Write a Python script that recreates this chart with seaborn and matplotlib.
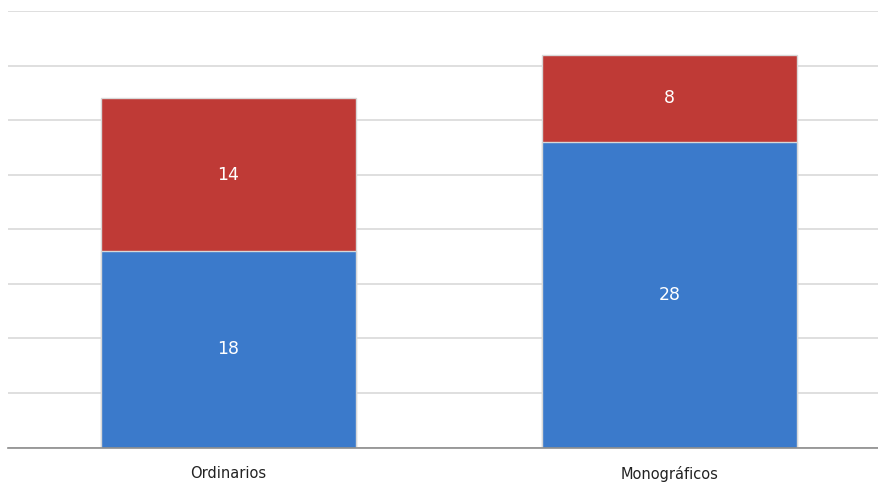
import matplotlib
matplotlib.use("Agg")
import matplotlib.pyplot as plt
import seaborn as sns
import pandas as pd
import numpy as np

categories = ["Ordinarios", "Monográficos"]
blue_vals = [18, 28]
red_vals = [14, 8]

sns.set_theme(style="white")
plt.rcParams['font.family'] = ['DejaVu Sans']

df = pd.DataFrame({"cat": categories, "blue": blue_vals, "red": red_vals})
df["total"] = df["blue"] + df["red"]

fig = plt.figure(figsize=(8.79, 4.83), dpi=100)
W, H = 879, 483
ax = fig.add_axes([8 / W, (H - 447.5) / H, 882 / W, (447.5 - 11) / H])

sns.barplot(data=df, x="cat", y="total", color="#bf3a36", saturation=1,
            width=0.576, ax=ax, edgecolor="#d8d8d8", linewidth=1)
sns.barplot(data=df, x="cat", y="blue", color="#3b7acb", saturation=1,
            width=0.576, ax=ax, edgecolor="#d8d8d8", linewidth=1)

for i, (b, r) in enumerate(zip(blue_vals, red_vals)):
    ax.text(i, b / 2, str(b), ha="center", va="center", color="white", fontsize=12.5)
    ax.text(i, b + r / 2, str(r), ha="center", va="center", color="white", fontsize=12.5)

ax.set_ylim(0, 40)
ax.set_xlim(-0.5, 1.5)
ax.set_yticks(np.arange(0, 41, 5))
ax.set_yticklabels([])
ax.tick_params(axis="y", length=0)
ax.tick_params(axis="x", length=0, labelsize=10.5, colors="#222222", pad=13)
ax.yaxis.grid(True, color="#d9d9d9", linewidth=1.2)
ax.set_axisbelow(True)
ax.set_xlabel("")
ax.set_ylabel("")
for s in ["left", "right", "top"]:
    ax.spines[s].set_visible(False)
ax.spines["bottom"].set_color("#8c8c8c")
ax.spines["bottom"].set_linewidth(1.2)

fig.savefig("out.png", dpi=100)
